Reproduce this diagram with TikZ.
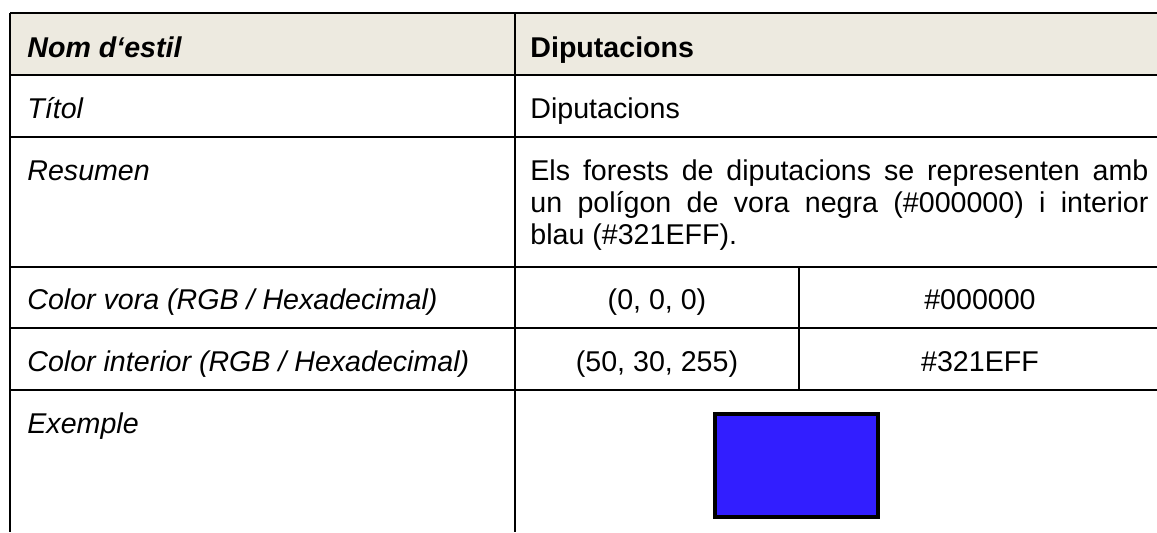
\documentclass[tikz,border=0pt]{standalone}
\usepackage{fontspec}
\setmainfont{Liberation Sans}
\definecolor{headbg}{RGB}{237,234,224}
\definecolor{blauint}{HTML}{321EFF}
\begin{document}
\begin{tikzpicture}[x=0.5pt,y=-0.5pt,
  every node/.style={inner sep=0pt,font=\fontsize{14.3}{16}\selectfont},
  rule/.style={line width=1pt},
  lbl/.style={anchor=base west,font=\fontsize{14.3}{16}\selectfont\itshape},
  val/.style={anchor=base west},
  mid/.style={anchor=base}]
\useasboundingbox (0,0) rectangle (1157,532);

% Header band
\fill[headbg] (10,13) rectangle (1162,74.5);

% Rules of the table
\foreach \y in {13,74.5,136.5,266.5,327.5,390}
  \draw[rule] (10,\y) -- (1162,\y);
\draw[rule] (10,12.5) -- (10,532);
\draw[rule] (515,12.5) -- (515,532);
\draw[rule] (799,266.5) -- (799,390);

% Header row
\node[lbl,font=\fontsize{14.3}{16}\selectfont\bfseries\itshape] (nom) at (27,57) {Nom d‘estil};
\node[val,font=\fontsize{14.3}{16}\selectfont\bfseries] (nomv) at (530,57) {Diputacions};

% Title row
\node[lbl] (titol) at (27,118) {Títol};
\node[val] (titolv) at (530,118) {Diputacions};

% Summary row (justified parbox)
\node[lbl] (resum) at (27,180) {Resumen};
\node[val] (resumv) at (530,180)
  {\parbox[t]{309pt}{\hyphenpenalty=10000\relax
   Els forests de diputacions se representen amb un polígon de vora negra (\#000000) i interior\linebreak blau (\#321EFF).}};

% Colour rows
\node[lbl] (vora) at (27,309.5) {Color vora (RGB / Hexadecimal)};
\node[mid] (vorargb) at (657,309.5) {(0, 0, 0)};
\node[mid] (vorahex) at (980,309.5) {\#000000};
\node[lbl] (inter) at (27,371) {Color interior (RGB / Hexadecimal)};
\node[mid] (interrgb) at (657,371) {(50, 30, 255)};
\node[mid] (interhex) at (980,371) {\#321EFF};

% Example row
\node[lbl] (exemple) at (27,433) {Exemple};
\draw[line width=2pt,fill=blauint] (715,414) rectangle (878,517);

\end{tikzpicture}
\end{document}
